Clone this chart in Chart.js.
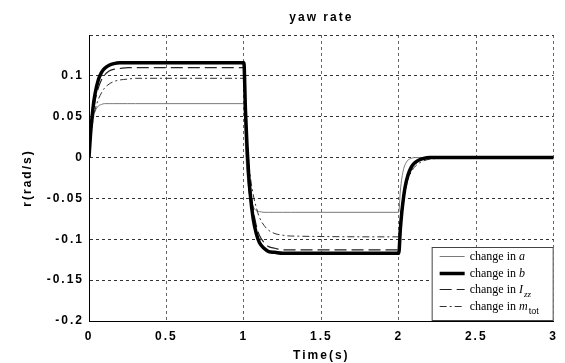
<!DOCTYPE html>
<html>
<head>
<meta charset="utf-8">
<title>yaw rate</title>
<script src="https://cdn.jsdelivr.net/npm/chart.js@4.4.1/dist/chart.umd.min.js"></script>
<style>
  html, body { margin: 0; padding: 0; background: #fff; }
  #wrap { width: 565px; height: 363px; }
</style>
</head>
<body>
<div id="wrap"><canvas id="yawChart" width="565" height="363"></canvas></div>
<script>
// time samples (s), shared by all four responses
const time = [0, 0.01, 0.02, 0.03, 0.04, 0.06, 0.08, 0.1, 0.13, 0.16, 0.2, 0.25, 0.3,
  1.0, 1.01, 1.02, 1.03, 1.04, 1.06, 1.08, 1.1, 1.13, 1.16, 1.2, 1.25, 1.3,
  2.0, 2.01, 2.02, 2.03, 2.04, 2.06, 2.08, 2.1, 2.13, 2.16, 2.2, 2.25, 2.3, 3.0];

// yaw rate r (rad/s)
const changeA = [0, 0.026, 0.042, 0.051, 0.057, 0.063, 0.065, 0.066, 0.066, 0.066, 0.066, 0.066, 0.066,
  0.066, 0.014, -0.018, -0.037, -0.049, -0.060, -0.065, -0.066, -0.067, -0.067, -0.067, -0.067, -0.067,
  -0.067, -0.041, -0.025, -0.015, -0.009, -0.003, -0.001, 0, 0, 0, 0, 0, 0, 0];
const changeB = [0, 0.029, 0.050, 0.067, 0.079, 0.095, 0.104, 0.109, 0.113, 0.115, 0.116, 0.116, 0.116,
  0.116, 0.058, 0.015, -0.018, -0.043, -0.075, -0.093, -0.104, -0.111, -0.115, -0.116, -0.117, -0.117,
  -0.117, -0.088, -0.066, -0.050, -0.037, -0.021, -0.012, -0.007, -0.003, -0.001, 0, 0, 0, 0];
const changeIzz = [0, 0.024, 0.043, 0.058, 0.070, 0.085, 0.095, 0.101, 0.106, 0.108, 0.109, 0.110, 0.110,
  0.110, 0.061, 0.022, -0.008, -0.031, -0.063, -0.083, -0.095, -0.104, -0.109, -0.111, -0.113, -0.113,
  -0.113, -0.088, -0.069, -0.053, -0.042, -0.025, -0.015, -0.009, -0.004, -0.002, -0.001, 0, 0, 0];
const changeMtot = [0, 0.022, 0.038, 0.050, 0.059, 0.071, 0.079, 0.085, 0.090, 0.093, 0.095, 0.096, 0.097,
  0.097, 0.053, 0.021, -0.003, -0.021, -0.045, -0.061, -0.073, -0.083, -0.089, -0.093, -0.095, -0.096,
  -0.097, -0.075, -0.059, -0.047, -0.038, -0.026, -0.018, -0.012, -0.007, -0.004, -0.002, -0.001, 0, 0];

const xTicks = [0, 0.5, 1, 1.5, 2, 2.5, 3];
const xTickLabels = ['0', '0.5', '1', '1.5', '2', '2.5', '3'];
const yTicks = [-0.2, -0.15, -0.1, -0.05, 0, 0.05, 0.1, 0.15];
const yTickLabels = ['-0.2', '-0.15', '-0.1', '-0.05', '0', '0.05', '0.1', ''];

// legend text: "change in " + symbol + subscript
const legendSymbols = ['a', 'b', 'I', 'm'];
const legendSubs = ['', '', 'zz', 'tot'];

const toPoints = (ys) => ys.map((y, i) => ({ x: time[i], y: y }));

const tickFont = { family: 'Liberation Sans, Arial, sans-serif', size: 12, weight: 'bold' };

const titlePlugin = {
  id: 'matTitle',
  beforeDraw(chart) {
    // matlab screen fonts are spaced out
    chart.ctx.letterSpacing = '2px';
  },
  afterDraw(chart) {
    const ctx = chart.ctx;
    const { left, right } = chart.chartArea;
    ctx.save();
    ctx.letterSpacing = '2px';
    ctx.fillStyle = '#000';
    ctx.font = 'bold 12px Liberation Sans, Arial, sans-serif';
    ctx.textAlign = 'center';
    ctx.textBaseline = 'middle';
    ctx.fillText('yaw rate', (left + right) / 2, 18);
    ctx.restore();
  }
};

const legendPlugin = {
  id: 'matLegend',
  afterDatasetsDraw(chart) {
    const ctx = chart.ctx;
    const { right, bottom } = chart.chartArea;
    const w = 122, h = 74;
    const x0 = right - w, y0 = bottom - h;
    ctx.save();
    ctx.letterSpacing = '0px';
    ctx.fillStyle = '#fff';
    ctx.fillRect(x0, y0, w, h);
    ctx.strokeStyle = '#444';
    ctx.lineWidth = 1;
    ctx.strokeRect(x0 + 0.5, y0 + 0.5, w - 1, h - 1);
    chart.data.datasets.forEach((ds, i) => {
      const y = Math.round(y0 + 9 + i * 16.5) + 0.5;
      ctx.strokeStyle = ds.borderColor;
      ctx.lineWidth = ds.borderWidth;
      ctx.setLineDash(ds.borderDash || []);
      ctx.beginPath();
      ctx.moveTo(x0 + 8, y);
      ctx.lineTo(x0 + 33, y);
      ctx.stroke();
      ctx.setLineDash([]);

      ctx.fillStyle = '#000';
      ctx.textBaseline = 'middle';
      ctx.textAlign = 'left';
      let tx = x0 + 38;
      ctx.font = '12px Liberation Serif, Times New Roman, serif';
      ctx.fillText('change in ', tx, y);
      tx += ctx.measureText('change in ').width;
      ctx.font = 'italic 12px Liberation Serif, Times New Roman, serif';
      ctx.fillText(legendSymbols[i], tx, y);
      tx += ctx.measureText(legendSymbols[i]).width + 1;
      if (legendSubs[i]) {
        ctx.font = (i === 2 ? 'italic 9px Liberation Serif, serif' : '9px Liberation Sans, Arial, sans-serif');
        ctx.fillText(legendSubs[i], tx, y + 5);
      }
    });
    ctx.restore();
  }
};

new Chart(document.getElementById('yawChart'), {
  type: 'line',
  data: {
    datasets: [
      {
        label: 'change in a',
        data: toPoints(changeA),
        borderColor: '#7a7a7a',
        borderWidth: 1,
        order: 3
      },
      {
        label: 'change in b',
        data: toPoints(changeB),
        borderColor: '#000',
        borderWidth: 3.5,
        order: 0
      },
      {
        label: 'change in Izz',
        data: toPoints(changeIzz),
        borderColor: '#222',
        borderWidth: 1.2,
        borderDash: [12, 5],
        order: 1
      },
      {
        label: 'change in m_tot',
        data: toPoints(changeMtot),
        borderColor: '#333',
        borderWidth: 1,
        borderDash: [7, 3, 2, 3],
        order: 2
      }
    ]
  },
  options: {
    responsive: false,
    animation: false,
    devicePixelRatio: 1,
    layout: { padding: { left: 0, right: 8, top: 35, bottom: 0 } },
    elements: {
      point: { radius: 0 },
      line: { fill: false, cubicInterpolationMode: 'monotone' }
    },
    plugins: {
      legend: { display: false },
      tooltip: { enabled: false },
      title: { display: false }
    },
    scales: {
      x: {
        type: 'linear',
        min: 0,
        max: 3,
        afterBuildTicks: (scale) => { scale.ticks = xTicks.map((v) => ({ value: v })); },
        afterFit: (scale) => { scale.height = 42; },
        ticks: {
          color: '#000',
          font: tickFont,
          padding: 8,
          maxRotation: 0,
          autoSkip: false,
          callback: (v) => xTickLabels[xTicks.indexOf(v)]
        },
        grid: {
          drawTicks: false,
          color: (c) => (c.tick && c.tick.value === 0 ? 'rgba(0,0,0,0)' : '#666')
        },
        border: { display: true, color: '#000', width: 1, dash: [3, 3] },
        title: {
          display: true,
          text: 'Time(s)',
          color: '#000',
          font: tickFont,
          padding: { top: 0, bottom: 0 }
        }
      },
      y: {
        type: 'linear',
        min: -0.2,
        max: 0.15,
        afterBuildTicks: (scale) => { scale.ticks = yTicks.map((v) => ({ value: v })); },
        afterFit: (scale) => { scale.width = 89; },
        ticks: {
          color: '#000',
          font: tickFont,
          padding: 5,
          autoSkip: false,
          callback: (v) => yTickLabels[yTicks.indexOf(v)]
        },
        grid: {
          drawTicks: false,
          color: (c) => (c.tick && c.tick.value === -0.2 ? 'rgba(0,0,0,0)' : '#333')
        },
        border: { display: true, color: '#000', width: 1, dash: [3, 3] },
        title: {
          display: true,
          text: 'r(rad/s)',
          color: '#000',
          font: tickFont,
          padding: { top: 20, bottom: 0 }
        }
      }
    }
  },
  plugins: [titlePlugin, legendPlugin]
});
</script>
</body>
</html>
